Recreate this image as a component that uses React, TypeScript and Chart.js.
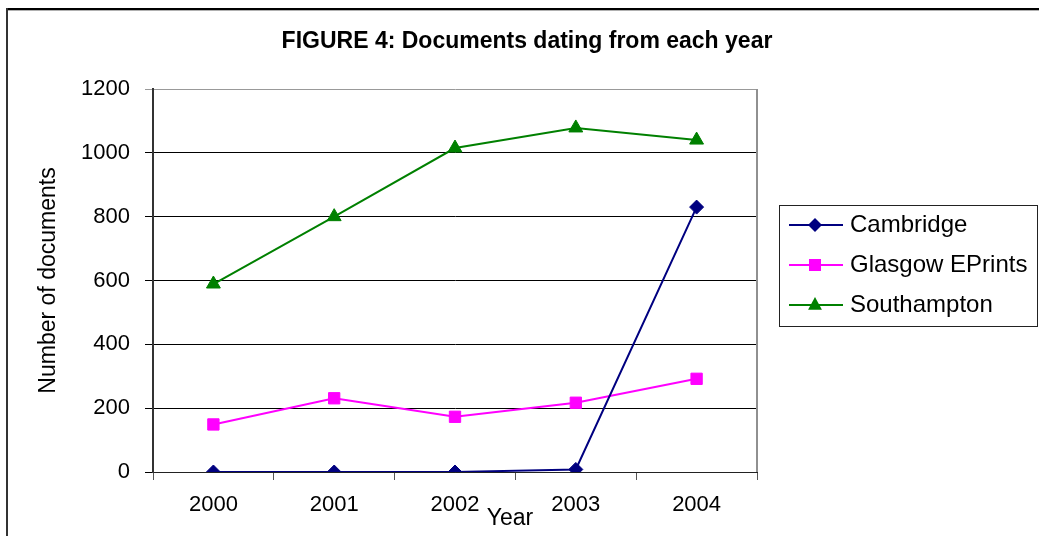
import React, { useEffect, useRef } from 'react';
import { Chart, registerables } from 'chart.js';

Chart.register(...registerables);

const categories = ['2000', '2001', '2002', '2003', '2004'];
const cambridge = [0, 0, 0, 8, 830];
const glasgow = [149, 231, 173, 217, 292];
const southampton = [589, 800, 1015, 1078, 1040];
const yTickValues = [0, 200, 400, 600, 800, 1000, 1200];
const seriesNames = ['Cambridge', 'Glasgow EPrints', 'Southampton'];
const seriesColors = ['#000080', '#FF00FF', '#008000'];
const seriesMarkers = ['rectRot', 'rect', 'triangle'];
const chartTitle = 'FIGURE 4: Documents dating from each year';
const xTitle = 'Year';
const yTitle = 'Number of documents';

const FONT = '"Liberation Sans", Arial, sans-serif';

function drawMarker(ctx: CanvasRenderingContext2D, style: string, x: number, y: number, color: string) {
  ctx.fillStyle = color;
  ctx.beginPath();
  if (style === 'rectRot') {
    const r = 7;
    ctx.moveTo(x, y - r);
    ctx.lineTo(x + r, y);
    ctx.lineTo(x, y + r);
    ctx.lineTo(x - r, y);
    ctx.closePath();
  } else if (style === 'rect') {
    const s = 6;
    ctx.rect(x - s, y - s, 2 * s, 2 * s);
  } else {
    const r = 8;
    ctx.moveTo(x, y - r);
    ctx.lineTo(x + r * 0.866, y + r * 0.6);
    ctx.lineTo(x - r * 0.866, y + r * 0.6);
    ctx.closePath();
  }
  ctx.fill();
}

const decorPlugin = {
  id: 'decor',
  beforeDraw(chart: any) {
    const { ctx, width, height } = chart;
    ctx.save();
    ctx.fillStyle = '#ffffff';
    ctx.fillRect(0, 0, width, height);
    ctx.restore();
  },
  afterDraw(chart: any) {
    const { ctx, chartArea: a, width, height } = chart;
    ctx.save();
    // outer frame
    ctx.fillStyle = '#000000';
    ctx.fillRect(6, 8, width - 6, 2);
    ctx.fillStyle = '#b0b0b0';
    ctx.fillRect(8, 10, width - 8, 1);
    ctx.fillStyle = '#333333';
    ctx.fillRect(6, 8, 2, height - 8);
    // right border of plot area
    ctx.strokeStyle = '#909090';
    ctx.lineWidth = 2;
    ctx.beginPath();
    ctx.moveTo(a.right, a.top);
    ctx.lineTo(a.right, a.bottom);
    ctx.stroke();
    // title
    ctx.fillStyle = '#000000';
    ctx.font = `bold 23px ${FONT}`;
    ctx.textAlign = 'center';
    ctx.textBaseline = 'middle';
    ctx.fillText(chartTitle, 527, 42);
    // x axis title
    ctx.font = `23px ${FONT}`;
    ctx.fillText(xTitle, a.left + (a.right - a.left) * 0.591, 519);
    // legend
    const bx = a.right + 22;
    const by = 205;
    ctx.strokeStyle = '#222222';
    ctx.lineWidth = 1;
    ctx.strokeRect(bx + 0.5, by + 0.5, width - bx - 2, 121);
    chart.data.datasets.forEach((ds: any, i: number) => {
      const y = by + 20 + i * 40;
      ctx.strokeStyle = seriesColors[i];
      ctx.lineWidth = 2;
      ctx.beginPath();
      ctx.moveTo(bx + 10, y);
      ctx.lineTo(bx + 64, y);
      ctx.stroke();
      drawMarker(ctx, seriesMarkers[i], bx + 36, y, seriesColors[i]);
      ctx.fillStyle = '#000000';
      ctx.font = `24px ${FONT}`;
      ctx.textAlign = 'left';
      ctx.textBaseline = 'middle';
      ctx.fillText(ds.label, bx + 71, y);
    });
    ctx.restore();
  },
};

export default function App() {
  const canvasRef = useRef<HTMLCanvasElement | null>(null);

  useEffect(() => {
    document.body.style.margin = '0';
    const canvas = canvasRef.current;
    if (!canvas) return;
    const seriesData = [cambridge, glasgow, southampton];
    const chart = new Chart(canvas, {
      type: 'line',
      data: {
        labels: categories,
        datasets: seriesData.map((d, i) => ({
          label: seriesNames[i],
          data: d,
          borderColor: seriesColors[i],
          backgroundColor: seriesColors[i],
          borderWidth: 2,
          pointStyle: seriesMarkers[i] as any,
          pointRadius: i === 0 ? 7 : 8,
          pointBorderWidth: 1,
          pointBackgroundColor: seriesColors[i],
          pointBorderColor: seriesColors[i],
          tension: 0,
          fill: false,
        })),
      },
      options: {
        animation: false,
        responsive: false,
        devicePixelRatio: 1,
        layout: { padding: { top: 89, right: 282, left: 0, bottom: 0 } },
        plugins: {
          legend: { display: false },
          title: { display: false },
          tooltip: { enabled: false },
        },
        scales: {
          x: {
            offset: true,
            grid: {
              offset: true,
              drawOnChartArea: false,
              drawTicks: true,
              tickLength: 8,
              color: '#555555',
              lineWidth: 1,
            },
            border: { color: '#222222', width: 1 },
            ticks: {
              font: { family: FONT, size: 22 },
              color: '#000000',
              padding: 12,
              maxRotation: 0,
              autoSkip: false,
            },
            afterFit: (s: any) => {
              s.height = 64;
            },
          },
          y: {
            min: 0,
            max: 1200,
            afterBuildTicks: (s: any) => {
              s.ticks = yTickValues.map((v) => ({ value: v }));
            },
            grid: {
              color: (c: any) => (c.tick && c.tick.value === 1200 ? '#999999' : '#000000'),
              tickLength: 8,
              lineWidth: 1,
            },
            border: { color: '#333333', width: 2 },
            ticks: {
              font: { family: FONT, size: 22 },
              color: '#000000',
              padding: 15,
              callback: (v: any) => String(v),
            },
            title: {
              display: true,
              text: yTitle,
              color: '#000000',
              font: { family: FONT, size: 23 },
              padding: { top: 35, bottom: 0 },
            },
            afterFit: (s: any) => {
              s.width = 153;
            },
          },
        },
      },
      plugins: [decorPlugin],
    });
    return () => chart.destroy();
  }, []);

  return (
    <div style={{ position: 'absolute', left: 0, top: 0, width: 1039, height: 536 }}>
      <canvas ref={canvasRef} width={1039} height={536} style={{ display: 'block' }} />
    </div>
  );
}
